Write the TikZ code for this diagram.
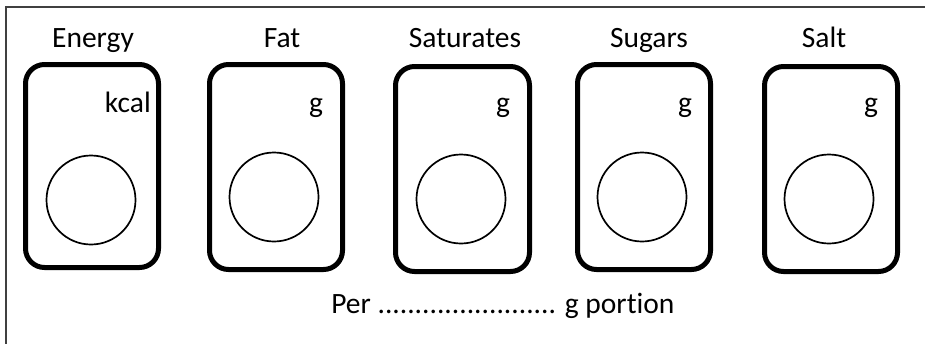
\documentclass[tikz,border=0pt]{standalone}
\usepackage{fontspec}
\setmainfont{Carlito}[Ligatures=NoCommon]
\begin{document}
\begin{tikzpicture}[x=1pt,y=-1pt,
  panel/.style={draw=black,line width=5pt,rounded corners=19pt},
  dial/.style={draw=black,line width=1.7pt,circle,minimum size=89pt,inner sep=0pt},
  title/.style={anchor=base,font=\fontsize{29.5}{32}\selectfont,inner sep=0pt},
  unit/.style={anchor=base,font=\fontsize{29.5}{32}\selectfont,inner sep=0pt},
  frame/.style={draw=black!75,line width=1.5pt}]
\useasboundingbox (0,0) rectangle (925,343);
% outer frame, running off the right and bottom edges
\draw[frame] (6,345) -- (6,7) -- (927,7);

% Energy
\draw[panel] (25.5,64.5) rectangle (158.5,267.5);
\node[dial] (d1) at (91,200) {};
\node[title] (t1) at (93,47) {Energy};
\node[unit,anchor=base east] (u1) at (151,112) {kcal};

% Fat
\draw[panel] (209.5,64.5) rectangle (342.5,269.5);
\node[dial] (d2) at (274,197) {};
\node[title] (t2) at (282,47) {Fat};
\node[unit] (u2) at (316,112) {g};

% Saturates
\draw[panel] (395.5,66.5) rectangle (529.5,271.5);
\node[dial] (d3) at (461,199) {};
\node[title] (t3) at (465,47) {Saturates};
\node[unit] (u3) at (503,112) {g};

% Sugars
\draw[panel] (577.5,64.5) rectangle (710.5,269.5);
\node[dial] (d4) at (642,197) {};
\node[title] (t4) at (649,47) {Sugars};
\node[unit] (u4) at (685,112) {g};

% Salt
\draw[panel] (764.5,66.5) rectangle (897.5,271.5);
\node[dial] (d5) at (829,199) {};
\node[title] (t5) at (824,47) {Salt};
\node[unit] (u5) at (871,112) {g};

% portion line
\node[title] (portion) at (503,313) {Per ........................ g portion};
\end{tikzpicture}
\end{document}
